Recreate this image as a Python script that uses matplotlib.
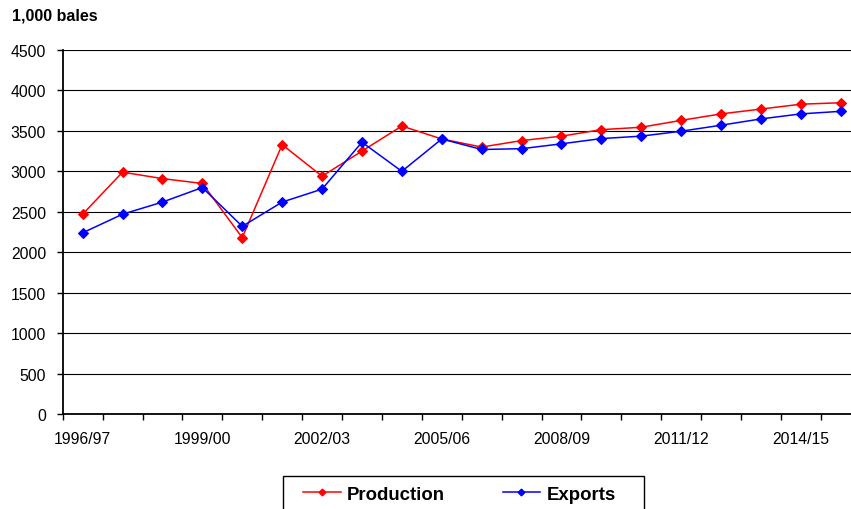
import matplotlib.pyplot as plt
from matplotlib.lines import Line2D
from matplotlib.patches import Rectangle

plt.rcParams["font.family"] = ["Liberation Sans", "DejaVu Sans"]

SEASONS = ["1996/97", "1997/98", "1998/99", "1999/00", "2000/01",
           "2001/02", "2002/03", "2003/04", "2004/05", "2005/06",
           "2006/07", "2007/08", "2008/09", "2009/10", "2010/11",
           "2011/12", "2012/13", "2013/14", "2014/15", "2015/16"]

# 1,000 bales
PRODUCTION = [2470, 2990, 2910, 2850, 2180, 3330, 2940, 3250, 3560, 3400,
              3300, 3380, 3435, 3515, 3545, 3630, 3710, 3770, 3830, 3848]
EXPORTS = [2240, 2470, 2620, 2800, 2320, 2620, 2780, 3360, 3000, 3400,
           3270, 3280, 3340, 3405, 3435, 3496, 3570, 3648, 3710, 3742]

Y_TICKS = list(range(0, 4501, 500))
LABEL_EVERY = 3

W, H = 851, 510


def main():
    fig = plt.figure(figsize=(W / 100, H / 100), dpi=100)
    # plot area runs a little past the right edge of the image
    ax = fig.add_axes([62.7 / W, 1 - 415 / H, 798 / W, 364 / H])

    x = list(range(len(SEASONS)))
    ax.plot(x, PRODUCTION, color="#ff0000", lw=1.1, marker="D", ms=5.2,
            mew=0.8, label="Production", zorder=3)
    ax.plot(x, EXPORTS, color="#0000ff", lw=1.1, marker="D", ms=5.2,
            mew=0.8, label="Exports", zorder=3)

    ax.set_xlim(-0.5, len(SEASONS) - 0.5)
    ax.set_ylim(0, 4500)
    ax.set_yticks(Y_TICKS)
    ax.yaxis.grid(True, color="black", lw=0.8)
    ax.set_axisbelow(True)

    # labels centred on categories, tick marks between them
    ax.set_xticks(x[::LABEL_EVERY])
    ax.set_xticklabels(SEASONS[::LABEL_EVERY])
    ax.set_xticks([i - 0.5 for i in x] + [len(SEASONS) - 0.5], minor=True)
    ax.tick_params(axis="x", which="major", length=0, pad=12.5, labelsize=11.3)
    ax.tick_params(axis="x", which="minor", length=4, width=1, direction="out")
    ax.tick_params(axis="y", length=4, width=1, pad=8, labelsize=11.3)

    for side in ("top", "right"):
        ax.spines[side].set_visible(False)
    for side in ("left", "bottom"):
        ax.spines[side].set_linewidth(1.3)
        ax.spines[side].set_color("black")

    fig.text(12 / W, 1 - 16 / H, "1,000 bales", fontsize=11.5,
             fontweight="bold", va="center", ha="left")

    handles = [
        Line2D([], [], color="#ff0000", lw=1.1, marker="D", ms=3.4),
        Line2D([], [], color="#0000ff", lw=1.1, marker="D", ms=3.4),
    ]
    fig.legend(handles, ["Production", "Exports"], loc="center",
               bbox_to_anchor=(459.5 / W, 1 - 495 / H), ncol=2,
               frameon=False, handlelength=2.0, handletextpad=0.35,
               columnspacing=3.1, prop={"weight": "bold", "size": 13.4})
    fig.patches.append(Rectangle((283 / W, 1 - 520 / H), 361 / W, 43 / H,
                                 transform=fig.transFigure, fill=False,
                                 ec="black", lw=1.0))

    fig.savefig("out.png", dpi=100)


if __name__ == "__main__":
    main()
